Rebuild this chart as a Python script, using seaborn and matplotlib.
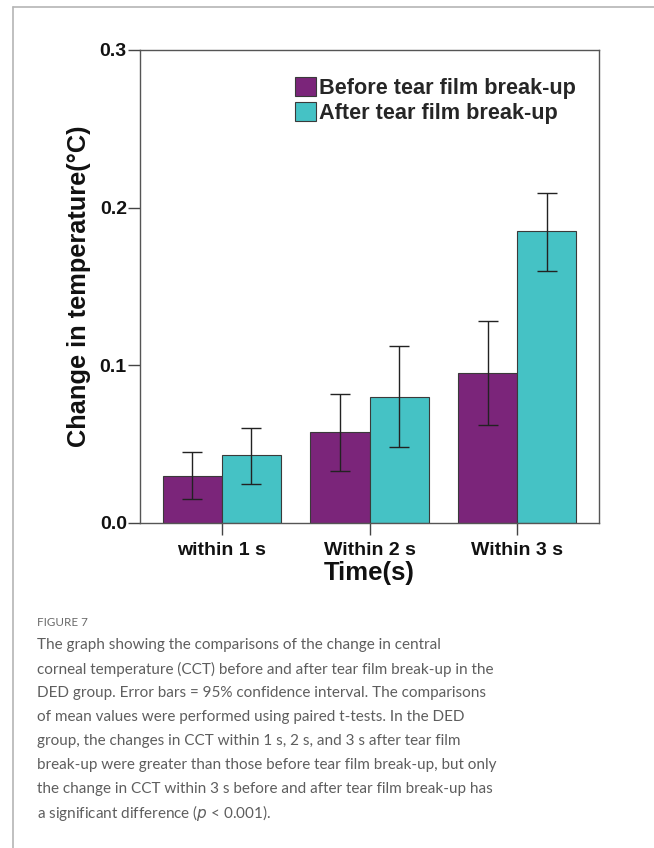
import matplotlib
matplotlib.use("Agg")
import matplotlib.pyplot as plt
from matplotlib.lines import Line2D
from matplotlib.patches import Patch
import numpy as np
import pandas as pd
import seaborn as sns

# Mean change in central corneal temperature and 95% CI bounds
time_windows = ["within 1 s", "Within 2 s", "Within 3 s"]
phases = ["Before tear film break-up", "After tear film break-up"]
before_mean = [0.030, 0.058, 0.095]
before_low = [0.015, 0.033, 0.062]
before_high = [0.045, 0.082, 0.128]
after_mean = [0.043, 0.080, 0.185]
after_low = [0.025, 0.048, 0.160]
after_high = [0.060, 0.112, 0.209]
y_ticks = [0.0, 0.1, 0.2, 0.3]
y_tick_labels = ["0.0", "0.1", "0.2", "0.3"]

caption_title = "FIGURE 7"
caption_lines = [
    "The graph showing the comparisons of the change in central",
    "corneal temperature (CCT) before and after tear film break-up in the",
    "DED group. Error bars = 95% confidence interval. The comparisons",
    "of mean values were performed using paired t-tests. In the DED",
    "group, the changes in CCT within 1 s, 2 s, and 3 s after tear film",
    "break-up were greater than those before tear film break-up, but only",
    "the change in CCT within 3 s before and after tear film break-up has",
    "a significant difference ($\\it{p}$ < 0.001).",
]

palette = {phases[0]: "#7B257A", phases[1]: "#45C2C5"}

df = pd.DataFrame({
    "time": time_windows * 2,
    "phase": [phases[0]] * 3 + [phases[1]] * 3,
    "mean": before_mean + after_mean,
    "low": before_low + after_low,
    "high": before_high + after_high,
})

sns.set_theme(style="white")
plt.rcParams["font.family"] = ["Liberation Sans", "DejaVu Sans"]

fig = plt.figure(figsize=(6.54, 8.48), dpi=100)
ax = fig.add_axes([0.2141, 0.3833, 0.7018, 0.5578])

sns.barplot(data=df, x="time", y="mean", hue="phase", order=time_windows,
            hue_order=phases, palette=palette, errorbar=None, width=0.8,
            edgecolor="#3a3a3a", linewidth=0.8, saturation=1, ax=ax,
            legend=False)

# 95% CI error bars centred on each bar
for container, phase in zip(ax.containers, phases):
    sub = df[df["phase"] == phase].set_index("time").loc[time_windows]
    xs = [bar.get_x() + bar.get_width() / 2 for bar in container]
    means = sub["mean"].values
    lower = means - sub["low"].values
    upper = sub["high"].values - means
    ax.errorbar(xs, means, yerr=[lower, upper], fmt="none", ecolor="#222222",
                elinewidth=1.0, capsize=7, capthick=1.0, zorder=5)

ax.set_xlim(-0.554, 2.554)
ax.set_ylim(0, 0.3)
ax.set_yticks(y_ticks)
ax.set_yticklabels(y_tick_labels)

for spine in ax.spines.values():
    spine.set_visible(True)
    spine.set_color("#555555")
    spine.set_linewidth(1.0)

ax.tick_params(axis="both", which="both", direction="out", length=8.5,
               width=1.0, color="#444444", left=True, bottom=True)
ax.tick_params(axis="y", pad=1, labelsize=14)
ax.tick_params(axis="x", pad=5, labelsize=14)
for lbl in ax.get_xticklabels() + ax.get_yticklabels():
    lbl.set_fontweight("bold")
    lbl.set_color("#111111")

ax.set_xlabel("Time(s)", fontsize=18.5, fontweight="bold", color="#111111",
              labelpad=2)
ax.set_ylabel("Change in temperature(°C)", fontsize=18.3, fontweight="bold",
              color="#111111", labelpad=6)

handles = [Patch(facecolor=palette[p], edgecolor="#3a3a3a", linewidth=0.8)
           for p in phases]
leg = ax.legend(handles, phases, loc="upper left",
                bbox_to_anchor=(0.338, 0.942), frameon=False,
                prop={"family": ["Liberation Sans"], "weight": "bold",
                      "size": 15.6},
                handlelength=0.95, handleheight=0.95, handletextpad=0.15,
                labelspacing=0.15, borderaxespad=0, borderpad=0)

# Caption panel frame lines
fig.add_artist(Line2D([13 / 654, 1.0], [1 - 7 / 848, 1 - 7 / 848],
                      transform=fig.transFigure, color="#b5b5b5", lw=1.2))
fig.add_artist(Line2D([13 / 654, 13 / 654], [0.0, 1 - 7 / 848],
                      transform=fig.transFigure, color="#b5b5b5", lw=1.2))

cap_font = ["Lato", "DejaVu Sans"]
fig.text(37 / 654, 1 - 623 / 848, caption_title, fontsize=8.4,
         color="#6a6a6a", family=cap_font, fontweight="normal",
         va="center", ha="left")
for i, line in enumerate(caption_lines):
    y = 645 + i * 24.0
    fig.text(37 / 654, 1 - y / 848, line, fontsize=11.0, color="#5e5e5e",
             family=cap_font, fontweight="normal", va="center", ha="left")

fig.savefig("out.png", dpi=100)
